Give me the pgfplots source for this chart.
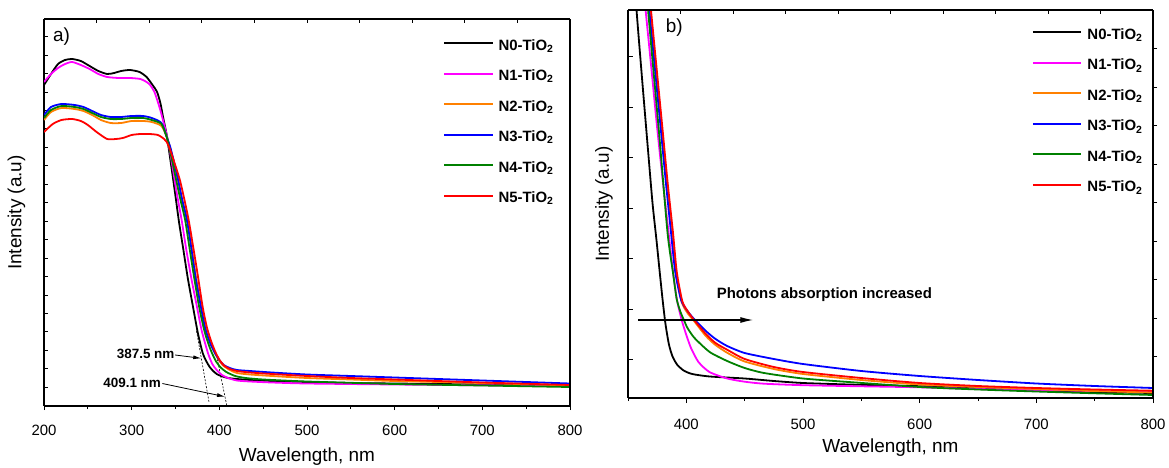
\documentclass[border=0pt]{standalone}
\usepackage{fontspec}
\setmainfont{Liberation Sans}
\usepackage{pgfplots}
\pgfplotsset{compat=1.18}
\usetikzlibrary{arrows.meta}

\definecolor{cMag}{RGB}{255,0,255}
\definecolor{cOra}{RGB}{255,128,0}
\definecolor{cBlu}{RGB}{0,0,255}
\definecolor{cGre}{RGB}{0,128,0}
\definecolor{cRed}{RGB}{255,0,0}

\pgfplotsset{
  base/.style={scale only axis, clip=true,
    axis line style={line width=1.2bp},
    every tick/.style={black, line width=1bp},
    major tick length=5bp, minor tick length=3bp,
    tick label style={font=\fontsize{15}{15}\selectfont},
    /pgf/number format/assume math mode=true,
    label style={font=\fontsize{19}{19}\selectfont},
  },
  ovl/.style={scale only axis, axis line style={line width=1.2bp},
    every tick/.style={black, line width=1bp},
    major tick length=4bp, xticklabels={}, yticklabels={}},
  curve/.style={line width=1.8bp, no markers, smooth, tension=0.4},
  leg/.style={legend style={draw=none, fill=none, inner sep=0pt, outer sep=0pt, anchor=north west,
      font=\bfseries\fontsize{15}{15}\selectfont, row sep=14.5bp,
      nodes={inner sep=0pt, text height=11bp, text depth=5bp}},
    legend cell align=left,
    legend image code/.code={\draw[##1, line width=2bp] (0bp,4bp) -- (48.5bp,4bp);},
    /tikz/every odd column/.append style={column sep=5bp}},
}

\begin{document}
\begin{tikzpicture}
\useasboundingbox (0,0) rectangle (1169bp,468bp);

% ---------------- panel a ----------------
\begin{axis}[base, at={(44bp,62bp)}, anchor=south west, width=526bp, height=387bp,
  xmin=200, xmax=800, ymin=0, ymax=387,
  axis x line*=bottom, axis y line*=left,
  xtick={200,300,...,800}, minor xtick={250,350,...,750}, xtick align=outside,
  ytick={18.7,37.15,55.6,74.05,92.5,110.95,129.4,147.85,166.3,184.75,203.2,221.65,240.1,258.55,277,295.45,313.9,332.35,350.8,369.25},
  yticklabels={}, ytick align=inside, major tick length=4bp,
  xlabel={Wavelength, nm}, ylabel={Intensity (a.u)},
  xlabel style={at={(axis description cs:0.5,-0.1318)}, anchor=center},
  ylabel style={at={(axis description cs:-0.0523,0.5)}, anchor=center},
  xticklabel style={anchor=center, yshift=-20.7bp},
  leg, legend style={at={(rel axis cs:0.7586,0.948)}}]

\draw[dash pattern=on 2bp off 1.5bp, line width=0.6bp] (axis cs:374,75) -- (axis cs:388.3,3.5);
\draw[dash pattern=on 2bp off 1.5bp, line width=0.6bp] (axis cs:396,54) -- (axis cs:408.6,0);

\addplot[curve, black] coordinates {(200,321) (208,332) (216,342) (224,346) (232,347) (242,345) (252,340) (262,335) (272,332) (280,333) (288,335) (298,336) (309,334) (317,329) (323,322) (329,314) (333,302) (336,288) (340,271) (345,241) (349.5,213) (354,184) (358.5,159) (364,128) (370,99) (375.5,73) (381,53) (385,45) (389,39) (393,35) (397,32) (402,30) (410,28) (420,27) (435,26) (460,25) (500,24) (550,23) (600,22.5) (700,21.5) (800,20.5)};
\addlegendentry{N0-TiO\textsubscript{2}}
\addplot[curve, cMag] coordinates {(200,324) (208,332) (216,338) (224,342) (232,344) (242,341) (252,337) (262,332) (272,329) (285,328) (298,328) (310,327) (317,324) (321,321) (326,314) (332,298) (336,285) (340,271) (345,248) (351,215) (357,186) (362,158) (368,128) (374.5,99) (380,75) (387,53) (392,42) (397,36) (403,31) (410,28) (420,25.5) (435,24.5) (460,23.5) (500,22.5) (600,21.5) (700,20.7) (800,20)};
\addlegendentry{N1-TiO\textsubscript{2}}
\addplot[curve, cOra] coordinates {(200,286) (208,294) (220,298) (235,297) (245,295) (255,291) (265,286) (276,283) (288,283) (300,285) (313,285) (323,284) (334,280) (340,269) (344,258) (348,244) (353,225) (358,204) (363.5,186) (368.5,158) (373.5,128) (379.5,99) (384.5,77) (390,62) (395,53) (400,45) (405,40) (412,36) (420,33) (435,31.5) (460,30) (500,28) (550,26.5) (600,25) (700,23) (800,20.5)};
\addlegendentry{N2-TiO\textsubscript{2}}
\addplot[curve, cBlu] coordinates {(200,291) (208,299) (220,302) (235,301) (245,299) (255,295) (265,291) (276,289) (288,289) (300,290) (313,290) (323,288) (334,283) (340,269) (344,259) (348,245) (353,226) (358,205) (363,186) (368,158) (373,128) (379,99) (384,77) (390,62) (395,53) (400,46) (405,41) (412,38) (420,36) (435,35) (460,33.5) (500,31.5) (550,30) (600,28.5) (700,25.5) (800,22.5)};
\addlegendentry{N3-TiO\textsubscript{2}}
\addplot[curve, cGre] coordinates {(200,288) (208,296) (220,300) (235,299) (245,297) (255,293) (265,289) (276,287) (288,287) (300,288) (313,288) (323,286) (334,282) (340,269) (343,258) (347,242) (351,225) (356,205) (361,186) (366,158) (371,130) (377,99) (383,75) (388,61) (391.6,53) (396,45) (401,39) (408,34) (418,30) (430,28) (450,26.5) (500,24.5) (600,22) (700,20.5) (800,19)};
\addlegendentry{N4-TiO\textsubscript{2}}
\addplot[curve, cRed] coordinates {(200,274) (210,282) (220,286) (232,287) (242,285) (250,281) (260,274) (272,267) (282,267) (290,268) (300,271) (310,272) (320,272) (330,271) (337,267) (340,264) (344,256) (350,240) (355,226) (360,207) (365,186) (370,160) (375,133) (381,99) (386,78) (391,64) (396,53) (401,45) (406,40) (412,37) (420,35) (435,33.5) (460,32) (500,30) (550,28) (600,26.5) (700,23.5) (800,21)};
\addlegendentry{N5-TiO\textsubscript{2}}

\draw[line width=0.8bp, -{Latex[length=8bp,width=4bp]}] (axis cs:349.5,51) -- (axis cs:379.4,47.7);
\node[anchor=east, inner sep=0pt, font=\bfseries\fontsize{13.5}{13.5}\selectfont] at (axis cs:349,52) {387.5 nm};
\draw[line width=0.8bp, -{Latex[length=8bp,width=4bp]}] (axis cs:335,22.5) -- (axis cs:406.5,9.3);
\node[anchor=east, inner sep=0pt, font=\bfseries\fontsize{13.5}{13.5}\selectfont] at (axis cs:333.6,22.7) {409.1 nm};
\node[anchor=west, inner sep=0pt, font=\fontsize{19}{19}\selectfont] at (rel axis cs:0.0171,0.9535) {a)};
\end{axis}

\begin{axis}[ovl, at={(44bp,62bp)}, anchor=south west, width=526bp, height=387bp,
  xmin=0, xmax=10, ymin=0, ymax=1, axis x line*=top, axis y line*=right,
  xtick={1,...,9}, xtick align=inside, ytick=\empty]
\end{axis}

% ---------------- panel b ----------------
\begin{axis}[base, at={(628bp,70bp)}, anchor=south west, width=525bp, height=388bp,
  xmin=350, xmax=800, ymin=0, ymax=388,
  axis x line*=bottom, axis y line*=left,
  xtick={400,500,...,800}, minor xtick={350,450,...,750}, xtick align=outside,
  ytick={38,88.5,139,189.5,240,290.5,341}, yticklabels={}, ytick align=inside,
  xlabel={Wavelength, nm}, ylabel={Intensity (a.u)},
  xlabel style={at={(axis description cs:0.5,-0.1289)}, anchor=center},
  ylabel style={at={(axis description cs:-0.0457,0.5)}, anchor=center},
  xticklabel style={anchor=center, yshift=-21bp},
  leg, legend style={at={(rel axis cs:0.7695,0.953)}}]

\addplot[curve, black] coordinates {(355,430) (357.3,388) (362,320) (367,250) (371,195) (374.4,158) (377,128) (379.5,100) (382,75) (385,54) (388,42) (392,33.5) (397.7,27.5) (405,24) (420,21.5) (450,19.5) (475,17) (500,15) (545,13.3) (600,11.8) (650,9.5) (700,7.5) (750,6) (800,5)};
\addlegendentry{N0-TiO\textsubscript{2}}
\addplot[curve, cMag] coordinates {(363,420) (365.1,388) (370,330) (375,270) (380,215) (384.8,165) (388.6,126) (392,98) (396,78) (400,63) (404,50) (410.4,36) (419.8,26) (435,19.5) (450,16.3) (466.6,14.3) (500,12.8) (550,11.7) (600,10.7) (650,9) (700,8) (750,7) (800,6.3)};
\addlegendentry{N1-TiO\textsubscript{2}}
\addplot[curve, cOra] coordinates {(366.7,420) (368.9,388) (373.7,330) (378.7,270) (383.3,215) (387.5,165) (391,126) (396,96) (401,85) (406.6,77) (416.7,62) (425,53) (435.4,45) (450,36.5) (475,29) (500,24) (550,18) (600,13.5) (650,11) (700,9) (750,7) (800,5.5)};
\addlegendentry{N2-TiO\textsubscript{2}}
\addplot[curve, cBlu] coordinates {(366,420) (368.2,388) (373,330) (378,270) (382.5,215) (386.9,165) (390.5,126) (395.5,98) (401,87) (406.6,79) (416.7,67) (425,59) (435,52) (450,45) (475,39) (500,34) (550,27) (600,22) (650,18) (700,14.5) (750,12) (800,10)};
\addlegendentry{N3-TiO\textsubscript{2}}
\addplot[curve, cGre] coordinates {(365,420) (367.2,388) (372,325) (377,260) (383.9,165) (388.6,125) (391.7,99) (395,86) (397.9,78) (401,70) (407,60) (420,46) (435,37) (450,30) (466.6,25) (500,19.5) (545,15.5) (600,11) (650,8.5) (700,6.5) (750,4.7) (800,3)};
\addlegendentry{N4-TiO\textsubscript{2}}
\addplot[curve, cRed] coordinates {(367.5,420) (369.7,388) (374.5,330) (379.5,270) (384,215) (388.6,165) (391.8,126) (396.5,97) (401,87) (406.6,78) (416.7,64) (425,55) (435.4,48) (450,39) (475,31) (500,26) (550,20) (600,15) (650,12) (700,10) (750,8.5) (800,7.3)};
\addlegendentry{N5-TiO\textsubscript{2}}

\draw[line width=1.3bp, -{Latex[length=13bp,width=6bp]}] (axis cs:358.9,78) -- (axis cs:457.4,78);
\node[anchor=west, inner sep=0pt, font=\bfseries\fontsize{15}{15}\selectfont] at (axis cs:426,103) {Photons absorption increased};
\node[anchor=west, inner sep=0pt, font=\fontsize{19}{19}\selectfont] at (rel axis cs:0.0716,0.9536) {b)};
\end{axis}

\begin{axis}[ovl, at={(628bp,70bp)}, anchor=south west, width=525bp, height=388bp,
  xmin=0, xmax=10, ymin=0, ymax=388, axis x line*=top, axis y line*=right,
  xtick={1,...,9}, xtick align=inside,
  ytick={41,79.5,118,156.5,195,233.5,272,310.5,349}, ytick align=outside]
\end{axis}
\end{tikzpicture}
\end{document}
